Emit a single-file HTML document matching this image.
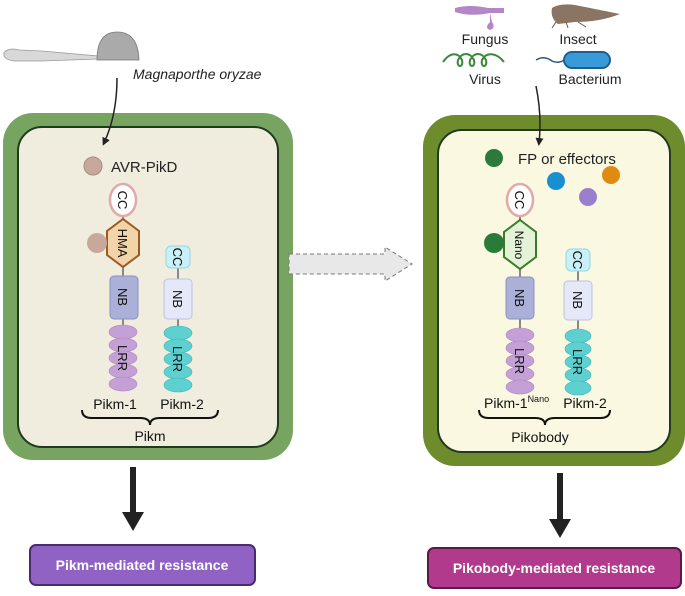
<!DOCTYPE html>
<html><head><style>
body{margin:0;background:#fff;width:685px;height:591px;overflow:hidden}
svg text{font-family:"Liberation Sans",sans-serif}
</style></head><body>
<svg width="685" height="591" viewBox="0 0 685 591" xmlns="http://www.w3.org/2000/svg">
<defs>
<marker id="ah" markerWidth="8" markerHeight="8" refX="5" refY="4" orient="auto" markerUnits="userSpaceOnUse"><path d="M0,0 L8,4 L0,8 z" fill="#222"/></marker>
</defs>
<rect x="3" y="113" width="290" height="347" rx="30" fill="#78a461"/>
<rect x="18" y="127" width="260" height="320" rx="24" fill="#f0eddf" stroke="#1f3a1f" stroke-width="2"/>
<rect x="423" y="115" width="262" height="351" rx="32" fill="#6f8c2c"/>
<rect x="438" y="130" width="232" height="322" rx="24" fill="#fbf8e2" stroke="#1f3a1f" stroke-width="2"/>

<path d="M4,53 Q6,49 14,49 L20,50 L42,51 L98,56 L98,59 L42,61 L14,61 Q6,60 4,56z" fill="#d8d8d8" stroke="#999" stroke-width="0.8"/>
<path d="M97,60 Q97,32 117,32 Q138,32 139,60 z" fill="#aaa" stroke="#777" stroke-width="0.8"/>
<text x="133" y="79" font-size="14" font-style="italic" fill="#222">Magnaporthe oryzae</text>
<path d="M117,78 Q117,115 104,143" fill="none" stroke="#222" stroke-width="1.5" marker-end="url(#ah)"/>
<circle cx="93" cy="166" r="9" fill="#c7a89a" stroke="#a68b7f"/>
<text x="111" y="172" font-size="15" fill="#222">AVR-PikD</text>

<line x1="123" y1="200" x2="123" y2="385" stroke="#888" stroke-width="2"/>
<ellipse cx="123" cy="200" rx="13" ry="16" fill="#fff" stroke="#e0aaaa" stroke-width="2.5"/>
<polygon points="123,219 139,231 139,255 123,267 107,255 107,231" fill="#f2d4a8" stroke="#9c5a23" stroke-width="2"/>
<circle cx="97" cy="243" r="10" fill="#c7a89a"/>
<rect x="110" y="276" width="28" height="43" rx="4" fill="#aab0d8" stroke="#8a91c0"/>
<g fill="#c4a0d6" stroke="#a98abc" stroke-width="0.6">
<ellipse cx="123" cy="332" rx="14" ry="7"/><ellipse cx="123" cy="345" rx="14" ry="7"/><ellipse cx="123" cy="358" rx="14" ry="7"/><ellipse cx="123" cy="371" rx="14" ry="7"/><ellipse cx="123" cy="384" rx="14" ry="7"/></g>
<g font-size="13" fill="#111">
<text transform="translate(118,200) rotate(90)" text-anchor="middle">CC</text>
<text transform="translate(118,243) rotate(90)" text-anchor="middle">HMA</text>
<text transform="translate(118,297) rotate(90)" text-anchor="middle">NB</text>
<text transform="translate(118,358) rotate(90)" text-anchor="middle">LRR</text>
</g>
<line x1="178" y1="257" x2="178" y2="385" stroke="#888" stroke-width="2"/>
<rect x="166" y="246" width="24" height="22" rx="5" fill="#c9f0f6" stroke="#8fd8e6"/>
<rect x="164" y="279" width="28" height="40" rx="4" fill="#e4e8f8" stroke="#bcc2e0"/>
<g fill="#5fd0d0" stroke="#3fb5b8" stroke-width="0.6">
<ellipse cx="178" cy="333" rx="14" ry="7"/><ellipse cx="178" cy="346" rx="14" ry="7"/><ellipse cx="178" cy="359" rx="14" ry="7"/><ellipse cx="178" cy="372" rx="14" ry="7"/><ellipse cx="178" cy="385" rx="14" ry="7"/></g>
<g font-size="13" fill="#111">
<text transform="translate(173,257) rotate(90)" text-anchor="middle">CC</text>
<text transform="translate(173,299) rotate(90)" text-anchor="middle">NB</text>
<text transform="translate(173,359) rotate(90)" text-anchor="middle">LRR</text>
</g>
<text x="115" y="409" font-size="14" fill="#111" text-anchor="middle">Pikm-1</text>
<text x="182" y="409" font-size="14" fill="#111" text-anchor="middle">Pikm-2</text>
<path d="M82,410 Q82,418 92,418 L140,418 Q150,418 150,425 Q150,418 160,418 L208,418 Q218,418 218,410" fill="none" stroke="#111" stroke-width="2"/>
<text x="150" y="441" font-size="14" fill="#111" text-anchor="middle">Pikm</text>

<path d="M289,254 L385,254 L385,247 L412,264 L385,281 L385,274 L289,274 z" fill="#e8e8e8" stroke="#777" stroke-dasharray="4,3" stroke-width="1"/>

<path d="M455,8 Q470,4 488,8 L504,8 L504,13 L490,13 Q470,17 455,12z" fill="#b486c8"/>
<path d="M490,13 L490,22 Q484,28 490,30 Q496,28 492,22z" fill="#b486c8"/>
<path d="M552,8 Q560,3 575,5 L620,14 Q600,22 575,22 L558,24 Q550,18 552,8z" fill="#8a7565"/>
<path d="M556,22 L552,28 M566,22 L568,28 M578,22 L586,27" stroke="#6a5545" stroke-width="1"/>
<text x="485" y="44" font-size="14" fill="#222" text-anchor="middle">Fungus</text>
<text x="578" y="44" font-size="14" fill="#222" text-anchor="middle">Insect</text>
<path d="M443,62 C450,52 458,52 462,60 C464,68 456,68 458,60 C462,52 470,52 474,60 C476,68 468,68 470,60 C474,52 482,52 486,60 C488,68 480,68 482,60 C486,52 496,52 504,62" fill="none" stroke="#3a8a3a" stroke-width="2"/>
<path d="M536,60 Q544,55 552,61 Q558,64 564,60" fill="none" stroke="#2a5a7a" stroke-width="1.5"/>
<rect x="564" y="52" width="46" height="16" rx="8" fill="#3a9ad8" stroke="#1f5f8f" stroke-width="2"/>
<text x="485" y="84" font-size="14" fill="#222" text-anchor="middle">Virus</text>
<text x="590" y="84" font-size="14" fill="#222" text-anchor="middle">Bacterium</text>
<path d="M536,86 Q542,115 539,143" fill="none" stroke="#222" stroke-width="1.5" marker-end="url(#ah)"/>
<circle cx="494" cy="158" r="9" fill="#2a7a3a"/>
<text x="518" y="164" font-size="15" fill="#222">FP or effectors</text>
<circle cx="556" cy="181" r="9" fill="#1a8fcf"/>
<circle cx="611" cy="175" r="9" fill="#e08a10"/>
<circle cx="588" cy="197" r="9" fill="#9a80cc"/>

<line x1="520" y1="200" x2="520" y2="388" stroke="#888" stroke-width="2"/>
<ellipse cx="520" cy="200" rx="13" ry="16" fill="#fff" stroke="#e0aaaa" stroke-width="2.5"/>
<polygon points="520,220 536,232 536,257 520,269 504,257 504,232" fill="#e4f2d8" stroke="#3a7a2a" stroke-width="2"/>
<circle cx="494" cy="243" r="10" fill="#2a7a3a"/>
<rect x="506" y="277" width="28" height="42" rx="4" fill="#aab0d8" stroke="#8a91c0"/>
<g fill="#c4a0d6" stroke="#a98abc" stroke-width="0.6">
<ellipse cx="520" cy="335" rx="14" ry="7"/><ellipse cx="520" cy="348" rx="14" ry="7"/><ellipse cx="520" cy="361" rx="14" ry="7"/><ellipse cx="520" cy="374" rx="14" ry="7"/><ellipse cx="520" cy="387" rx="14" ry="7"/></g>
<g font-size="13" fill="#111">
<text transform="translate(515,200) rotate(90)" text-anchor="middle">CC</text>
<text transform="translate(515,245) rotate(90)" text-anchor="middle" font-size="12">Nano</text>
<text transform="translate(515,298) rotate(90)" text-anchor="middle">NB</text>
<text transform="translate(515,361) rotate(90)" text-anchor="middle">LRR</text>
</g>
<line x1="578" y1="259" x2="578" y2="388" stroke="#888" stroke-width="2"/>
<rect x="566" y="249" width="24" height="22" rx="5" fill="#c9f0f6" stroke="#8fd8e6"/>
<rect x="564" y="281" width="28" height="39" rx="4" fill="#e4e8f8" stroke="#bcc2e0"/>
<g fill="#5fd0d0" stroke="#3fb5b8" stroke-width="0.6">
<ellipse cx="578" cy="336" rx="13" ry="7"/><ellipse cx="578" cy="349" rx="13" ry="7"/><ellipse cx="578" cy="362" rx="13" ry="7"/><ellipse cx="578" cy="375" rx="13" ry="7"/><ellipse cx="578" cy="388" rx="13" ry="7"/></g>
<g font-size="13" fill="#111">
<text transform="translate(573,260) rotate(90)" text-anchor="middle">CC</text>
<text transform="translate(573,300) rotate(90)" text-anchor="middle">NB</text>
<text transform="translate(573,362) rotate(90)" text-anchor="middle">LRR</text>
</g>
<text x="484" y="408" font-size="14" fill="#111">Pikm-1<tspan font-size="9" dy="-6">Nano</tspan></text>
<text x="585" y="408" font-size="14" fill="#111" text-anchor="middle">Pikm-2</text>
<path d="M479,410 Q479,418 489,418 L535,418 Q545,418 545,425 Q545,418 555,418 L600,418 Q610,418 610,410" fill="none" stroke="#111" stroke-width="2"/>
<text x="540" y="442" font-size="14" fill="#111" text-anchor="middle">Pikobody</text>

<line x1="133" y1="467" x2="133" y2="515" stroke="#222" stroke-width="6"/>
<polygon points="122,512 144,512 133,531" fill="#222"/>
<line x1="560" y1="473" x2="560" y2="522" stroke="#222" stroke-width="6"/>
<polygon points="549,519 571,519 560,538" fill="#222"/>
<rect x="30" y="545" width="225" height="40" rx="6" fill="#9062c4" stroke="#4a2a70" stroke-width="2"/>
<text x="142" y="570" font-size="14" font-weight="bold" fill="#fff" text-anchor="middle">Pikm-mediated resistance</text>
<rect x="428" y="548" width="253" height="40" rx="6" fill="#b23a8c" stroke="#5a1a44" stroke-width="2"/>
<text x="554" y="573" font-size="14" font-weight="bold" fill="#fff" text-anchor="middle">Pikobody-mediated resistance</text>
</svg>
</body></html>
